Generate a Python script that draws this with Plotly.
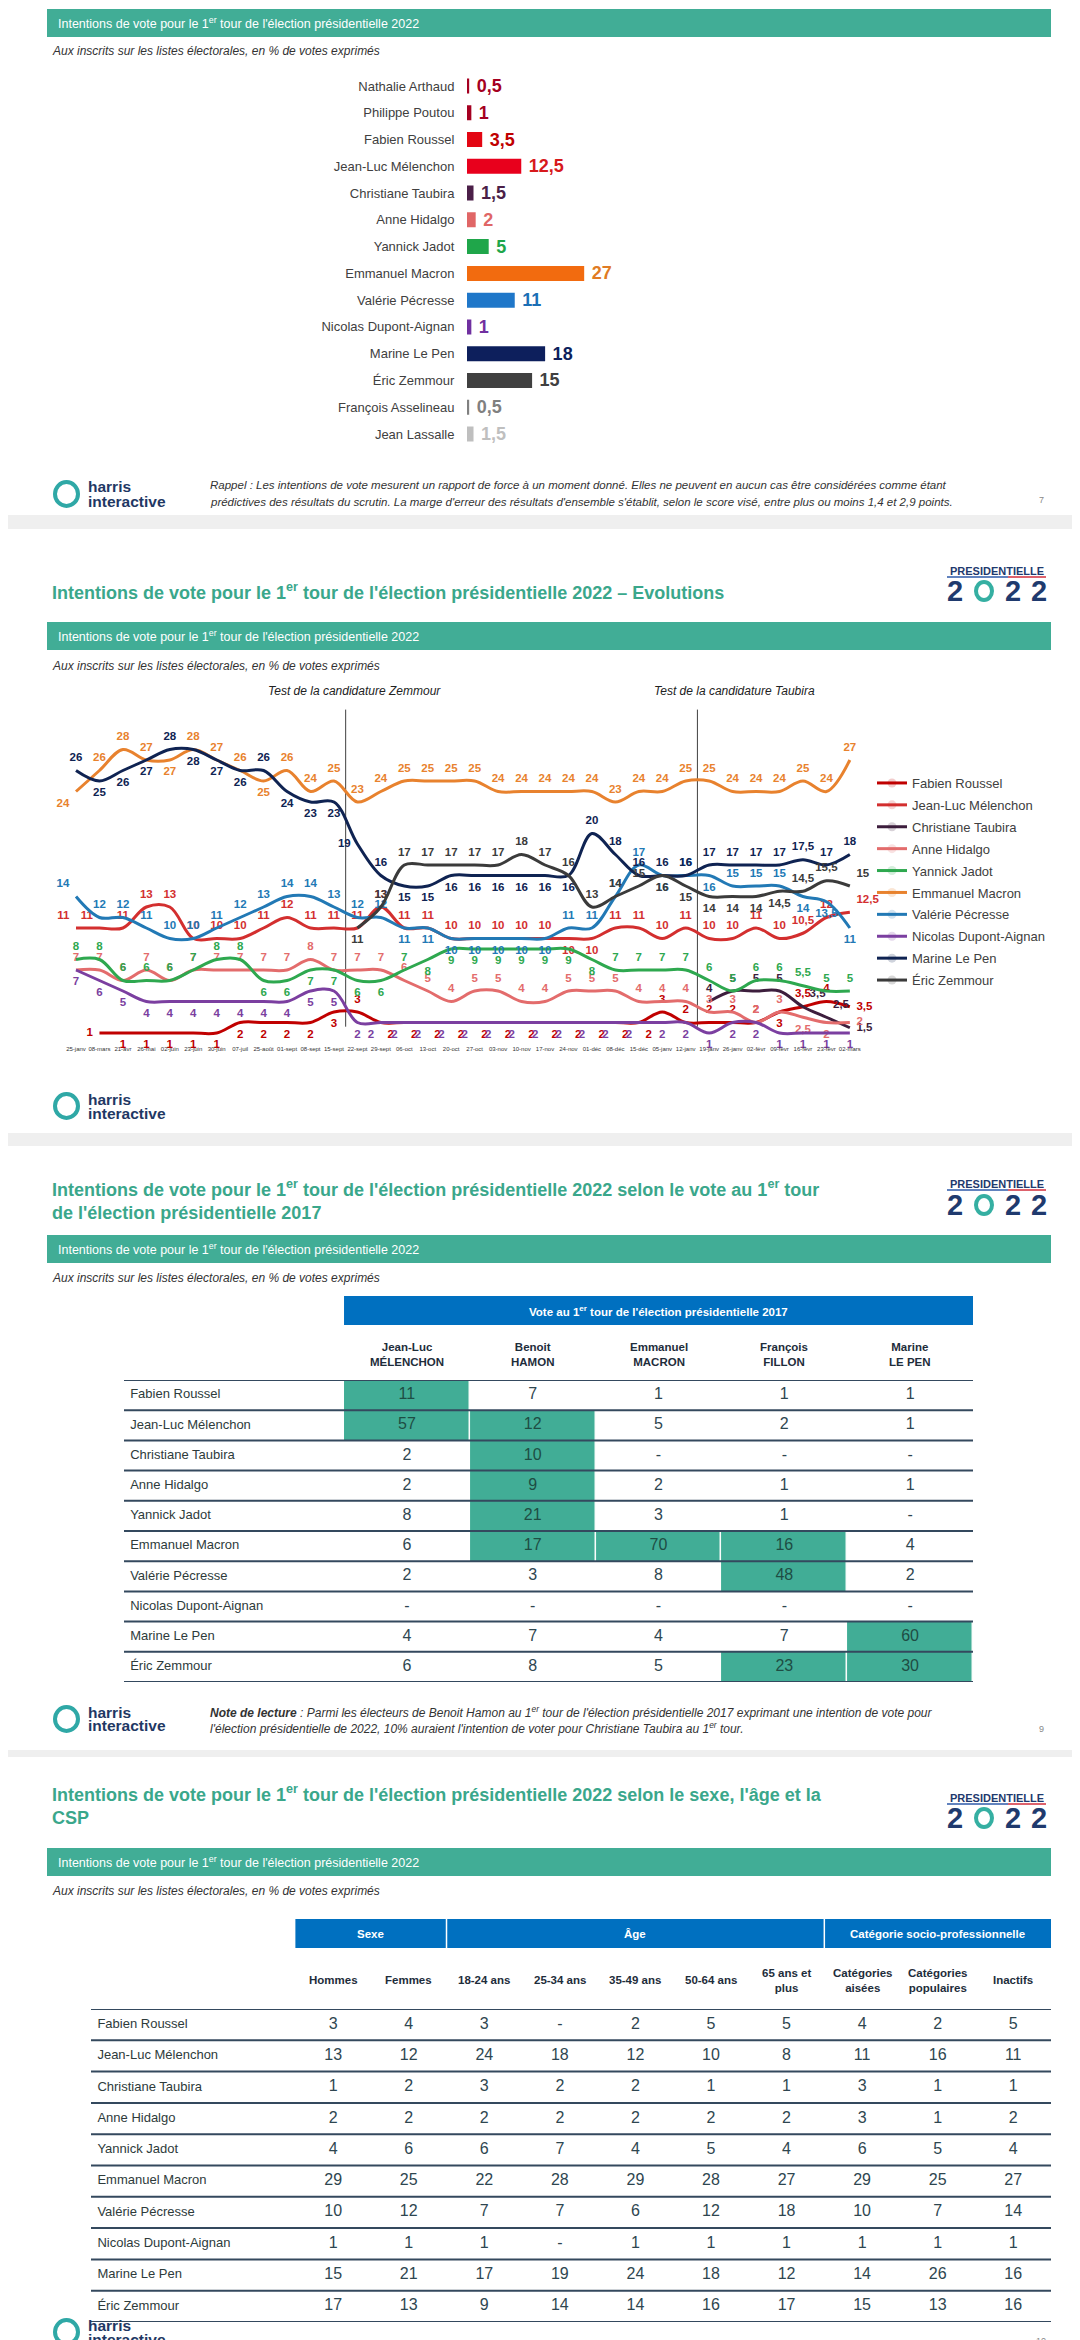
import plotly.graph_objects as go

W, H = 1080, 2340
FONT = "Liberation Sans, Arial, sans-serif"
GREEN = "#41AD96"
TITLE_GREEN = "#3AA78B"
BLUE = "#0070C0"
NAVY = "#1F3864"

def X(p):
    return p / W

def Y(p):
    return 1 - p / H

def fr(v):
    if v is None:
        return ""
    return ("%g" % v).replace(".", ",")

# ---------------- Slide 1 data: bar chart ----------------
bar_names = ["Nathalie Arthaud", "Philippe Poutou", "Fabien Roussel", "Jean-Luc Mélenchon",
             "Christiane Taubira", "Anne Hidalgo", "Yannick Jadot", "Emmanuel Macron",
             "Valérie Pécresse", "Nicolas Dupont-Aignan", "Marine Le Pen", "Éric Zemmour",
             "François Asselineau", "Jean Lassalle"]
bar_values = [0.5, 1, 3.5, 12.5, 1.5, 2, 5, 27, 11, 1, 18, 15, 0.5, 1.5]
bar_colors = ["#A50021", "#A50021", "#E30613", "#E8001C", "#4B1F48", "#E06666", "#1FA64A",
              "#F26B0F", "#1F77C9", "#7030A0", "#0D1F5C", "#404040", "#808080", "#BFBFBF"]
bar_label_colors = ["#A50021", "#A50021", "#C00000", "#D7191C", "#4B1F48", "#E06666", "#1FA64A",
                    "#E07B24", "#1B6FB5", "#7030A0", "#0D1F5C", "#404040", "#808080", "#BFBFBF"]

# ---------------- Slide 2 data: evolution lines ----------------
dates = ["25-janv", "08-mars", "21-avr", "26-mai", "02-juin", "23-juin", "30-juin", "07-juil",
         "25-août", "01-sept", "08-sept", "15-sept", "22-sept", "29-sept", "06-oct", "13-oct",
         "20-oct", "27-oct", "03-nov", "10-nov", "17-nov", "24-nov", "01-déc", "08-déc",
         "15-déc", "05-janv", "12-janv", "19-janv", "26-janv", "02-févr", "09-févr", "16-févr",
         "23-févr", "02-mars"]

roussel = [None, 1, 1, 1, 1, 1, 1, 2, 2, 2, 2, 3, 3, 2, 2, 2, 2, 2, 2, 2, 2, 2, 2, 2, 2, 3, 2,
           2, 2, 2, 3, 3.5, 4, 3.5]
melenchon = [11, 11, 11, 13, 13, 10, 10, 10, 11, 12, 11, 11, 11, 13, 11, 11, 10, 10, 10, 10, 10,
             10, 10, 11, 11, 10, 11, 10, 10, 11, 10, 10.5, 12, 12.5]
taubira = [None, None, None, None, None, None, None, None, None, None, None, None, None, None,
           None, None, None, None, None, None, None, None, None, None, None, None, None,
           4, 5, 5, 5, 3.5, 2.5, 1.5]
hidalgo = [7, 7, 6, 7, 6, 7, 7, 7, 7, 7, 8, 7, 7, 7, 6, 5, 4, 5, 5, 4, 4, 5, 5, 5, 4, 4, 4,
           3, 3, 2, 3, 2.5, 2, 2]
jadot = [8, 8, 6, 6, 6, 7, 8, 8, 6, 6, 7, 7, 6, 6, 7, 8, 9, 9, 9, 9, 9, 9, 8, 7, 7, 7, 7,
         6, 5, 6, 6, 5.5, 5, 5]
macron = [24, 26, 28, 27, 27, 28, 27, 26, 25, 26, 24, 25, 23, 24, 25, 25, 25, 25, 24, 24, 24, 24,
          24, 23, 24, 24, 25, 25, 24, 24, 24, 25, 24, 27]
pecresse = [14, 12, 12, 11, 10, 10, 11, 12, 13, 14, 14, 13, 12, 12, 11, 11, 10, 10, 10, 10, 10,
            11, 11, 14, 17, 16, 16, 16, 15, 15, 15, 14, 13.5, 11]
nda = [7, 6, 5, 4, 4, 4, 4, 4, 4, 4, 5, 5, 2, 2, 2, 2, 2, 2, 2, 2, 2, 2, 2, 2, 2, 2, 2,
       1, 2, 2, 1, 1, 1, 1]
lepen = [26, 25, 26, 27, 28, 28, 27, 26, 26, 24, 23, 23, 19, 16, 15, 15, 16, 16, 16, 16, 16, 16,
         20, 18, 16, 16, 16, 17, 17, 17, 17, 17.5, 17, 18]
zemmour = [None, None, None, None, None, None, None, None, None, None, None, None,
           11, 13, 17, 17, 17, 17, 17, 18, 17, 16, 13, 14, 15, 16, 15, 14, 14, 14, 14.5, 14.5,
           15.5, 15]

series = [
    ("Fabien Roussel", roussel, "#C00000"),
    ("Jean-Luc Mélenchon", melenchon, "#D32F2F"),
    ("Christiane Taubira", taubira, "#3D1E3D"),
    ("Anne Hidalgo", hidalgo, "#E36C6C"),
    ("Yannick Jadot", jadot, "#2EA84F"),
    ("Emmanuel Macron", macron, "#E8822E"),
    ("Valérie Pécresse", pecresse, "#2279B5"),
    ("Nicolas Dupont-Aignan", nda, "#7B3FA0"),
    ("Marine Le Pen", lepen, "#0F2352"),
    ("Éric Zemmour", zemmour, "#3B3B3B"),
]

# label placement (style only)
T, B, BR, BL = "top center", "bottom center", "bottom right", "bottom left"
label_pos = {
    "Fabien Roussel": (B, {1: "middle left", 12: T, 13: BR, 14: BR, 15: BR, 16: BR, 17: BR,
                           18: BR, 19: BR, 20: BR, 21: BR, 22: BR, 23: BR, 24: BR,
                           25: T, 26: T, 27: T, 28: T, 29: T, 31: T, 32: T,
                           33: "middle right"}),
    "Jean-Luc Mélenchon": (T, {0: "top left", 1: "top left", 21: B, 22: B, 33: "top right"}),
    "Christiane Taubira": (T, {31: "top right", 32: "top right", 33: "middle right"}),
    "Anne Hidalgo": (T, {31: B, 32: B, 33: "middle right"}),
    "Yannick Jadot": (T, {8: B, 9: B, 10: B, 11: B, 12: B, 13: B, 15: B, 16: B, 17: B, 18: B,
                          19: B, 20: B, 21: B, 22: B}),
    "Emmanuel Macron": (T, {0: "bottom left", 4: B, 8: B}),
    "Valérie Pécresse": (T, {0: "top left", 14: B, 15: B, 16: B, 17: B, 18: B, 19: B, 20: B,
                             25: B, 27: B, 31: B, 32: B, 33: B}),
    "Nicolas Dupont-Aignan": (B, {13: BL, 14: BL, 15: BL, 16: BL, 17: BL, 18: BL, 19: BL,
                                  20: BL, 21: BL, 22: BL, 23: BL, 24: BL}),
    "Marine Le Pen": (B, {0: T, 4: T, 8: T, 12: "middle left", 13: T, 22: T, 23: T, 24: T, 25: T,
                          26: T, 27: T, 28: T, 29: T, 30: T, 31: T, 32: T, 33: T}),
    "Éric Zemmour": (T, {12: B, 25: B, 26: B, 27: B, 28: B, 29: B, 30: B, 33: "top right"}),
}

# ---------------- Slide 3 data: table by 2017 vote ----------------
t1_rows = ["Fabien Roussel", "Jean-Luc Mélenchon", "Christiane Taubira", "Anne Hidalgo",
           "Yannick Jadot", "Emmanuel Macron", "Valérie Pécresse", "Nicolas Dupont-Aignan",
           "Marine Le Pen", "Éric Zemmour"]
t1_cols = ["Jean-Luc<br>MÉLENCHON", "Benoit<br>HAMON", "Emmanuel<br>MACRON", "François<br>FILLON",
           "Marine<br>LE PEN"]
t1_values = [
    ["11", "7", "1", "1", "1"],
    ["57", "12", "5", "2", "1"],
    ["2", "10", "-", "-", "-"],
    ["2", "9", "2", "1", "1"],
    ["8", "21", "3", "1", "-"],
    ["6", "17", "70", "16", "4"],
    ["2", "3", "8", "48", "2"],
    ["-", "-", "-", "-", "-"],
    ["4", "7", "4", "7", "60"],
    ["6", "8", "5", "23", "30"],
]
t1_highlight = [
    [1, 0, 0, 0, 0],
    [1, 1, 0, 0, 0],
    [0, 1, 0, 0, 0],
    [0, 1, 0, 0, 0],
    [0, 1, 0, 0, 0],
    [0, 1, 1, 1, 0],
    [0, 0, 0, 1, 0],
    [0, 0, 0, 0, 0],
    [0, 0, 0, 0, 1],
    [0, 0, 0, 1, 1],
]

# ---------------- Slide 4 data: table by sex / age / CSP ----------------
t2_rows = t1_rows
t2_groups = ["Sexe", "Âge", "Catégorie socio-professionnelle"]
t2_group_span = [(0, 1), (2, 6), (7, 9)]
t2_cols = ["Hommes", "Femmes", "18-24 ans", "25-34 ans", "35-49 ans", "50-64 ans",
           "65 ans et<br>plus", "Catégories<br>aisées", "Catégories<br>populaires", "Inactifs"]
t2_values = [
    ["3", "4", "3", "-", "2", "5", "5", "4", "2", "5"],
    ["13", "12", "24", "18", "12", "10", "8", "11", "16", "11"],
    ["1", "2", "3", "2", "2", "1", "1", "3", "1", "1"],
    ["2", "2", "2", "2", "2", "2", "2", "3", "1", "2"],
    ["4", "6", "6", "7", "4", "5", "4", "6", "5", "4"],
    ["29", "25", "22", "28", "29", "28", "27", "29", "25", "27"],
    ["10", "12", "7", "7", "6", "12", "18", "10", "7", "14"],
    ["1", "1", "1", "-", "1", "1", "1", "1", "1", "1"],
    ["15", "21", "17", "19", "24", "18", "12", "14", "26", "16"],
    ["17", "13", "9", "14", "14", "16", "17", "15", "13", "16"],
]

HEADER = "Intentions de vote pour le 1<sup>er</sup> tour de l'élection présidentielle 2022"
SUBTITLE = "<i>Aux inscrits sur les listes électorales, en % de votes exprimés</i>"

fig = go.Figure()
shapes = []
annotations = []


def ann(x, y, text, size, color="#222222", xanchor="left", yanchor="middle",
        xref="paper", yref="paper", bold=False, align=None, **kw):
    d = dict(x=x, y=y, text=text, showarrow=False, xanchor=xanchor, yanchor=yanchor,
             xref=xref, yref=yref, align=align or ("center" if xanchor == "center" else xanchor),
             font=dict(family=FONT, size=size, color=color,
                       weight="bold" if bold else "normal"))
    d.update(kw)
    annotations.append(d)


def rect(x0, y0, x1, y1, color, xref="paper", yref="paper", layer="below"):
    shapes.append(dict(type="rect", xref=xref, yref=yref, x0=x0, x1=x1, y0=y0, y1=y1,
                       fillcolor=color, line=dict(width=0), layer=layer))


def hline(x0, x1, y, color, width, xref="paper", yref="paper"):
    shapes.append(dict(type="line", xref=xref, yref=yref, x0=x0, x1=x1, y0=y, y1=y,
                       line=dict(color=color, width=width), layer="above"))


def header_bar(y0, y1):
    rect(X(39), Y(y1), X(1043), Y(y0), GREEN)
    ann(X(48), Y((y0 + y1) / 2), HEADER, 12.5, color="white")


def harris(ytop):
    shapes.append(dict(type="circle", xref="paper", yref="paper", x0=X(47), x1=X(70),
                       y0=Y(ytop + 26), y1=Y(ytop + 2), line=dict(color="#2FA8A6", width=4)))
    ann(X(78), Y(ytop + 7), "harris", 15.5, color=NAVY, bold=True)
    ann(X(78), Y(ytop + 21), "interactive", 15.5, color=NAVY, bold=True)


def pres_logo(yt, yd):
    ann(X(989), Y(yt), "PRESIDENTIELLE", 11, color="#1F3A6E", xanchor="center", bold=True)
    hline(X(939), X(1000), Y(yt + 6), "#2E5AA8", 1.5)
    hline(X(1000), X(1038), Y(yt + 6), "#D22E3B", 1.5)
    for xx in (947, 1005, 1031):
        ann(X(xx), Y(yd), "2", 29, color="#1F3A6E", xanchor="center", bold=True)
    shapes.append(dict(type="circle", xref="paper", yref="paper", x0=X(968), x1=X(984),
                       y0=Y(yd + 9), y1=Y(yd - 9), line=dict(color="#35AFA2", width=4)))


def title(yc, text):
    ann(X(42), Y(yc), "<b>" + text + "</b>", 18, color=TITLE_GREEN, align="left")


# gray separators between slides
for a, b in [(507, 521), (1125, 1138), (1742, 1749)]:
    rect(0, Y(b), 1, Y(a), "#EFEFEF")

# ---------------- Slide 1 ----------------
header_bar(1, 29)
ann(X(42), Y(43), SUBTITLE, 12, color="#333333")
fig.add_trace(go.Bar(
    x=bar_values, y=bar_names, orientation="h", marker=dict(color=bar_colors, line=dict(width=0)),
    width=0.56, text=["\u2005" + fr(v) for v in bar_values], textposition="outside",
    constraintext="none", cliponaxis=False,
    textfont=dict(family=FONT, size=18, color=bar_label_colors, weight="bold"),
    showlegend=False, hoverinfo="skip", xaxis="x", yaxis="y"))
harris(472)
ann(X(200), Y(477), "<i>Rappel : Les intentions de vote mesurent un rapport de force à un moment donné. "
    "Elles ne peuvent en aucun cas être considérées comme étant</i>", 11.5, color="#333333")
ann(X(200), Y(494), "<i>prédictives des résultats du scrutin. La marge d'erreur des résultats d'ensemble "
    "s'établit, selon le score visé, entre plus ou moins 1,4 et 2,9 points.</i>", 11.5, color="#333333")
ann(X(1038), Y(492), "7", 9, color="#888888", xanchor="right")

# ---------------- Slide 2 ----------------
title(583, "Intentions de vote pour le 1<sup>er</sup> tour de l'élection présidentielle 2022 – Evolutions")
pres_logo(563, 583)
header_bar(614, 642)
ann(X(42), Y(658), SUBTITLE, 12, color="#333333")
ann(X(346), Y(683), "<i>Test de la candidature Zemmour</i>", 12, color="#222222", xanchor="center")
ann(X(726), Y(683), "<i>Test de la candidature Taubira</i>", 12, color="#222222", xanchor="center")

for name, vals, col in series:
    default, over = label_pos[name]
    pos = [over.get(i, default) for i in range(len(vals))]
    fig.add_trace(go.Scatter(
        x=dates, y=vals, name=name, legendgroup=name, mode="lines+markers+text",
        line=dict(color=col, width=3, shape="spline", smoothing=1.0),
        marker=dict(size=9, color=col, opacity=0),
        text=[fr(v) for v in vals], textposition=pos,
        textfont=dict(family=FONT, size=11.5, color=col, weight="bold"),
        cliponaxis=False, connectgaps=False, hoverinfo="skip",
        xaxis="x2", yaxis="y2"))

for xv in (11.5, 26.5):
    shapes.append(dict(type="line", xref="x2", yref="y2", x0=xv, x1=xv, y0=1.6, y1=31.8,
                       line=dict(color="#404040", width=1), layer="below"))
harris(1084)

# ---------------- Slide 3 ----------------
title(1191.5, "Intentions de vote pour le 1<sup>er</sup> tour de l'élection présidentielle 2022 selon le vote au 1<sup>er</sup> tour<br>de l'élection présidentielle 2017")
pres_logo(1176, 1197)
header_bar(1227, 1255)
ann(X(42), Y(1270), SUBTITLE, 12, color="#333333")
rect(-0.5, Y(1317), 4.5, Y(1288), BLUE, xref="x3")
ann(2, Y(1302.5), "Vote au 1<sup>er</sup> tour de l'élection présidentielle 2017", 11.5,
    color="white", xanchor="center", xref="x3", bold=True)
for j, c in enumerate(t1_cols):
    ann(j, Y(1346.5), c, 11.5, color="#1E2D3B", xanchor="center", xref="x3", bold=True)

hz = [[1 if m else None for m in row] for row in t1_highlight]
fig.add_trace(go.Heatmap(
    z=hz, x=list(range(len(t1_cols))), y=list(range(len(t1_rows))),
    colorscale=[[0, GREEN], [1, GREEN]], zmin=0, zmax=1, showscale=False,
    xgap=1.5, ygap=0, hoverinfo="skip", xaxis="x3", yaxis="y3"))
tx, ty, tt, tc = [], [], [], []
for i, row in enumerate(t1_values):
    for j, v in enumerate(row):
        tx.append(j)
        ty.append(i)
        tt.append(v)
        tc.append("#1E4D44" if t1_highlight[i][j] else "#2E4650")
fig.add_trace(go.Scatter(
    x=tx, y=ty, text=tt, mode="text", textposition="middle center",
    textfont=dict(family=FONT, size=16, color=tc), showlegend=False, hoverinfo="skip",
    cliponaxis=False, xaxis="x3", yaxis="y3"))
fig.add_trace(go.Scatter(
    x=[-2.2] * len(t1_rows), y=list(range(len(t1_rows))), text=t1_rows, mode="text",
    textposition="middle right", textfont=dict(family=FONT, size=13, color="#2E3B3B"),
    showlegend=False, hoverinfo="skip", cliponaxis=False, xaxis="x3", yaxis="y3"))
for k in range(len(t1_rows) + 1):
    shapes.append(dict(type="line", xref="x3 domain", yref="y3", x0=0, x1=1, y0=k - 0.5,
                       y1=k - 0.5, line=dict(color="#34495E", width=2), layer="above"))
harris(1697)
ann(X(200), Y(1704), "<b><i>Note de lecture</i></b><i> : Parmi les électeurs de Benoit Hamon au 1<sup>er</sup> "
    "tour de l'élection présidentielle 2017 exprimant une intention de vote pour</i>", 12, color="#333333")
ann(X(200), Y(1720), "<i>l'élection présidentielle de 2022, 10% auraient l'intention de voter pour "
    "Christiane Taubira au 1<sup>er</sup> tour.</i>", 12, color="#333333")
ann(X(1038), Y(1721), "9", 9, color="#888888", xanchor="right")

# ---------------- Slide 4 ----------------
title(1796.5, "Intentions de vote pour le 1<sup>er</sup> tour de l'élection présidentielle 2022 selon le sexe, l'âge et la<br>CSP")
pres_logo(1790, 1810)
header_bar(1840, 1868)
ann(X(42), Y(1883), SUBTITLE, 12, color="#333333")
rect(-0.5, Y(1940), len(t2_cols) - 0.5, Y(1911), BLUE, xref="x4")
for g, (a, b) in zip(t2_groups, t2_group_span):
    ann((a + b) / 2, Y(1925.5), g, 11.5, color="white", xanchor="center", xref="x4", bold=True)
    if a > 0:
        shapes.append(dict(type="line", xref="x4", yref="paper", x0=a - 0.5, x1=a - 0.5,
                           y0=Y(1940), y1=Y(1911), line=dict(color="white", width=1.5)))
for j, c in enumerate(t2_cols):
    ann(j, Y(1972), c, 11.5, color="#1E2D3B", xanchor="center", xref="x4", bold=True)
tx, ty, tt = [], [], []
for i, row in enumerate(t2_values):
    for j, v in enumerate(row):
        tx.append(j)
        ty.append(i)
        tt.append(v)
fig.add_trace(go.Scatter(
    x=tx, y=ty, text=tt, mode="text", textposition="middle center",
    textfont=dict(family=FONT, size=16, color="#2E4650"), showlegend=False, hoverinfo="skip",
    cliponaxis=False, xaxis="x4", yaxis="y4"))
fig.add_trace(go.Scatter(
    x=[-3.12] * len(t2_rows), y=list(range(len(t2_rows))), text=t2_rows, mode="text",
    textposition="middle right", textfont=dict(family=FONT, size=13, color="#2E3B3B"),
    showlegend=False, hoverinfo="skip", cliponaxis=False, xaxis="x4", yaxis="y4"))
for k in range(len(t2_rows) + 1):
    shapes.append(dict(type="line", xref="x4 domain", yref="y4", x0=0, x1=1, y0=k - 0.5,
                       y1=k - 0.5, line=dict(color="#34495E", width=2), layer="above"))
harris(2310)
ann(X(1040), Y(2333), "10", 9, color="#888888", xanchor="right")

hidden = dict(visible=False, showgrid=False, zeroline=False, fixedrange=True)

fig.update_layout(
    width=W, height=H, autosize=False,
    margin=dict(l=0, r=0, t=0, b=0),
    paper_bgcolor="white", plot_bgcolor="rgba(0,0,0,0)",
    font=dict(family=FONT, color="#333333"),
    shapes=shapes, annotations=annotations,
    showlegend=True,
    legend=dict(x=X(864), y=Y(760), xanchor="left", yanchor="top",
                font=dict(family=FONT, size=13, color="#404040"),
                bgcolor="rgba(0,0,0,0)", tracegroupgap=2, traceorder="grouped", itemwidth=30),
    xaxis=dict(domain=[X(459), X(459 + 4.34 * 40)], range=[0, 40], anchor="y", **hidden),
    yaxis=dict(domain=[Y(439.4), Y(64.6)], anchor="x", autorange="reversed", showgrid=False,
               zeroline=False, showline=False, ticks="outside", ticklen=9,
               tickcolor="rgba(0,0,0,0)",
               tickfont=dict(family=FONT, size=13, color="#404040"), fixedrange=True),
    xaxis2=dict(domain=[X(44.55), X(865.3)], range=[-1, 34], anchor="y2", type="category",
                categoryorder="array", categoryarray=dates, tickmode="array",
                tickvals=dates, ticktext=dates, tickangle=0, showgrid=False, zeroline=False,
                showline=False, ticks="", tickfont=dict(family=FONT, size=6, color="#333333"),
                fixedrange=True),
    yaxis2=dict(domain=[Y(1035.5), Y(699.5)], range=[0, 32], anchor="x2", **hidden),
    xaxis3=dict(domain=[X(116), X(965)], range=[-2.249, 4.5], anchor="y3", **hidden),
    yaxis3=dict(domain=[Y(1674), Y(1372)], range=[9.5, -0.5], anchor="x3", **hidden),
    xaxis4=dict(domain=[X(83), X(1043)], range=[-3.205, 9.5], anchor="y4", **hidden),
    yaxis4=dict(domain=[Y(2314), Y(2001)], range=[9.5, -0.5], anchor="x4", **hidden),
)

fig.write_html("out.html")
